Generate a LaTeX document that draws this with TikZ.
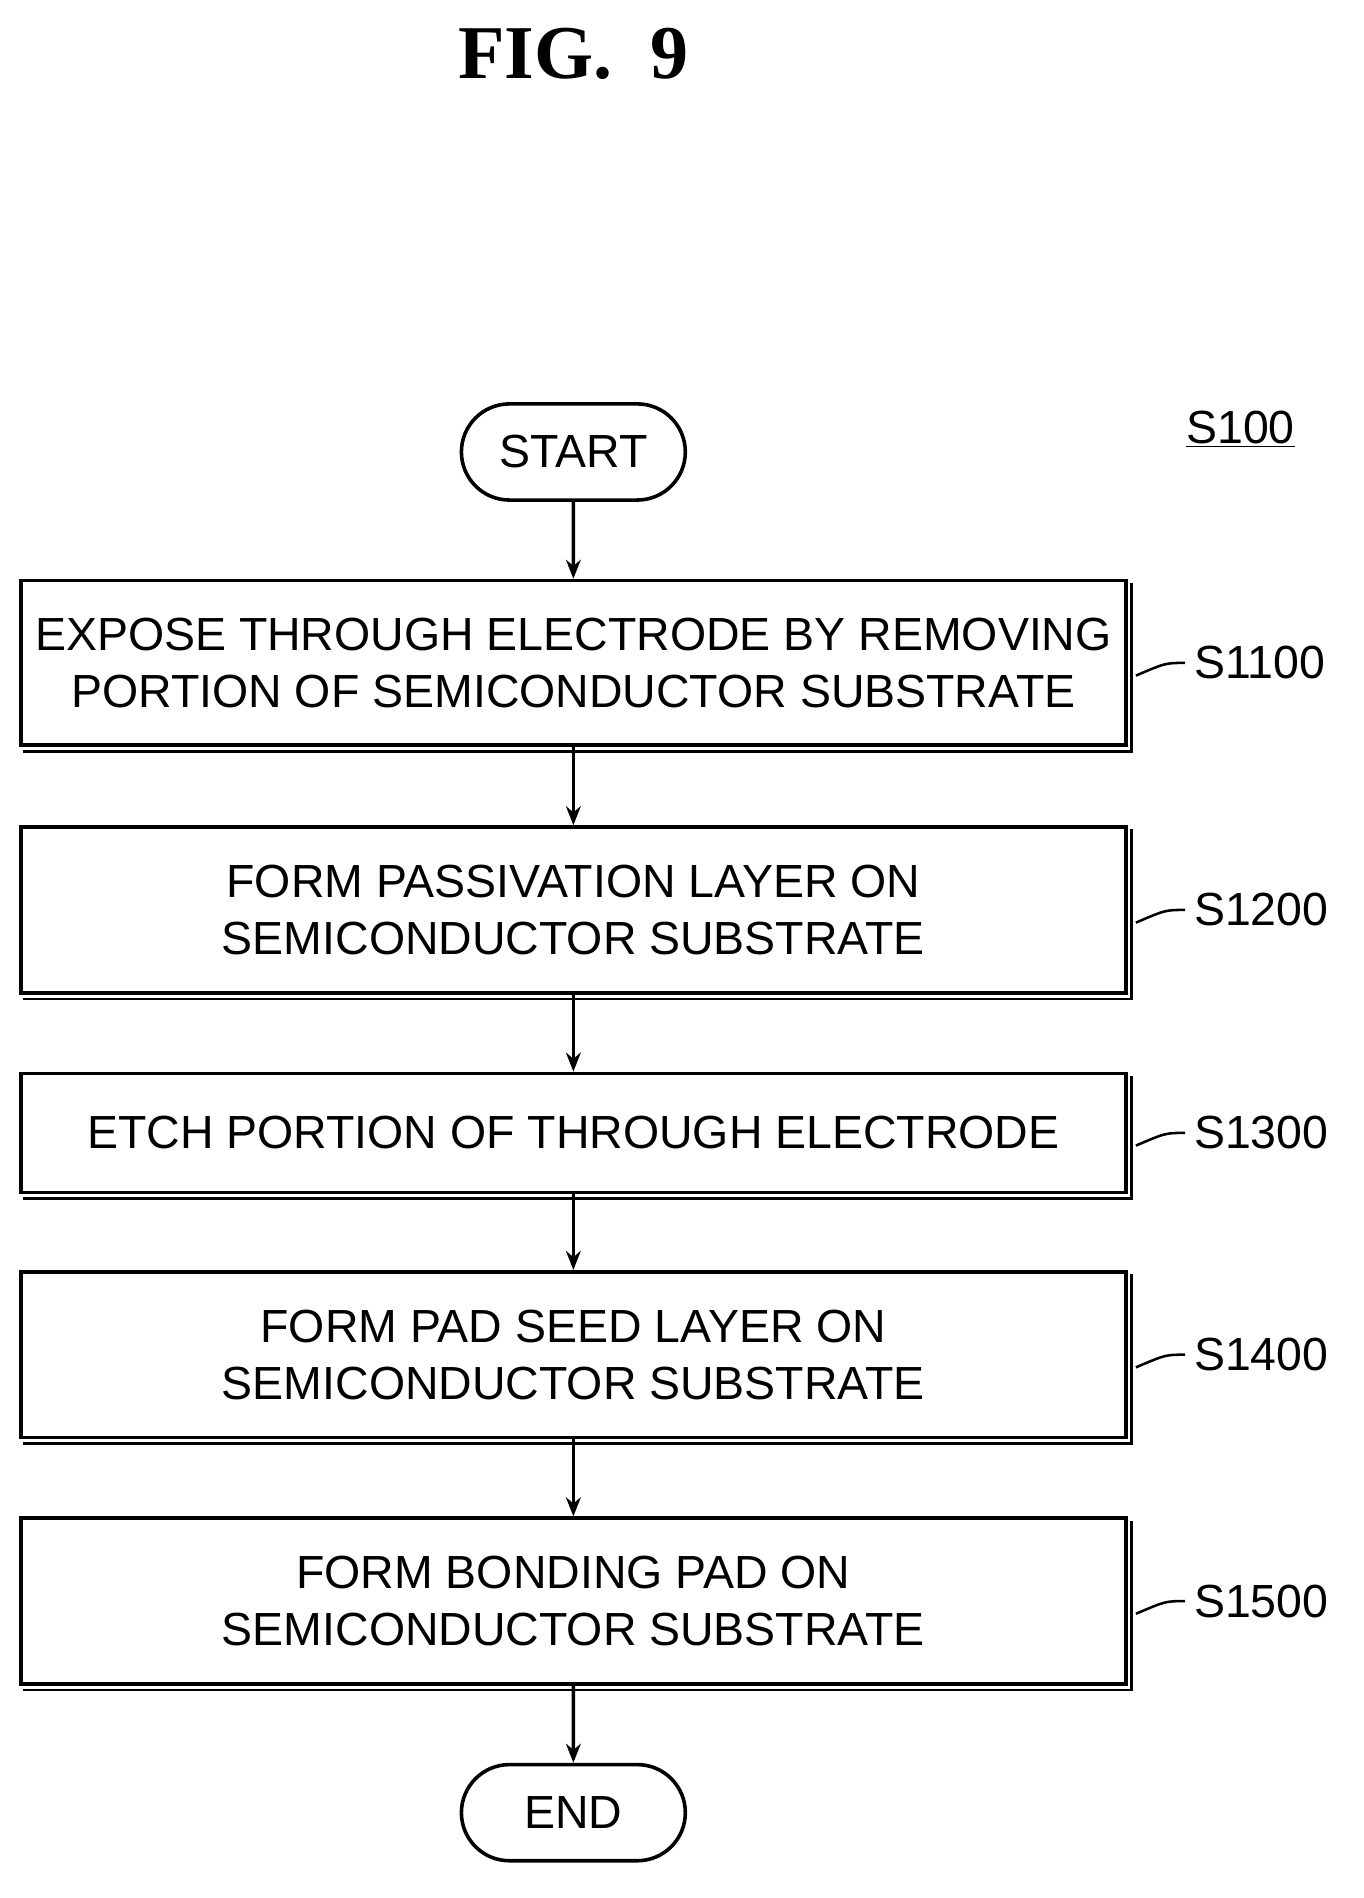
\documentclass[tikz,border=0pt]{standalone}
\usepackage{fontspec}
\setmainfont{Liberation Serif}
\newfontfamily\lab{Liberation Sans}
\usetikzlibrary{arrows.meta,shapes.misc}
\begin{document}
\begin{tikzpicture}[x=0.02cm,y=-0.02cm,line width=1.7pt,
  stepbox/.style={draw,minimum width=919*0.02cm,align=center,font=\lab\fontsize{22}{27}\selectfont,inner sep=0pt},
  term/.style={draw,rounded rectangle,minimum width=198*0.02cm,minimum height=80*0.02cm,font=\lab\fontsize{22}{27}\selectfont},
  arr/.style={-{Stealth[length=9pt,width=7pt]}},
  slab/.style={font=\lab\fontsize{22}{27}\selectfont,anchor=west}]
\useasboundingbox (0,0) rectangle (1134,1579);
\node[font=\bfseries\fontsize{36}{40}\selectfont] (fig) at (477,45) {FIG.\ \ 9};
\node[term] (st) at (477,376) {START};
\node[font=\lab\fontsize{22}{27}\selectfont] (s100) at (1032,357) {\underline{S100}};
\node[stepbox,minimum height=137*0.02cm] (b1) at (477,551.5) {EXPOSE THROUGH ELECTRODE BY REMOVING\\PORTION OF SEMICONDUCTOR SUBSTRATE};
\node[stepbox,minimum height=138*0.02cm] (b2) at (477,757) {FORM PASSIVATION LAYER ON\\SEMICONDUCTOR SUBSTRATE};
\node[stepbox,minimum height=99*0.02cm] (b3) at (477,942.5) {ETCH PORTION OF THROUGH ELECTRODE};
\node[stepbox,minimum height=138*0.02cm] (b4) at (477,1127) {FORM PAD SEED LAYER ON\\SEMICONDUCTOR SUBSTRATE};
\node[stepbox,minimum height=138*0.02cm] (b5) at (477,1332) {FORM BONDING PAD ON\\SEMICONDUCTOR SUBSTRATE};
\node[term] (en) at (477,1508) {END};
\foreach \b in {b1,b2,b3,b4,b5}{
  \draw[line width=1.2pt] ([xshift=2pt,yshift=-2pt]\b.north east) -- ([xshift=2pt,yshift=-2pt]\b.south east) -- ([xshift=2pt,yshift=-2pt]\b.south west);
}
\draw[arr] (st) -- (b1);
\draw[arr] (b1) -- (b2);
\draw[arr] (b2) -- (b3);
\draw[arr] (b3) -- (b4);
\draw[arr] (b4) -- (b5);
\draw[arr] (b5) -- (en);
\foreach \b/\t in {b1/S1100,b2/S1200,b3/S1300,b4/S1400,b5/S1500}{
  \coordinate (e\b) at ([xshift=48*0.02cm]\b.east);
  \node[slab] (l\b) at (e\b) {\t};
  \draw[line width=1.2pt] ([xshift=4pt,yshift=-6pt]\b.east) .. controls ([xshift=18pt,yshift=0pt]\b.east) .. (e\b);
}
\end{tikzpicture}
\end{document}
